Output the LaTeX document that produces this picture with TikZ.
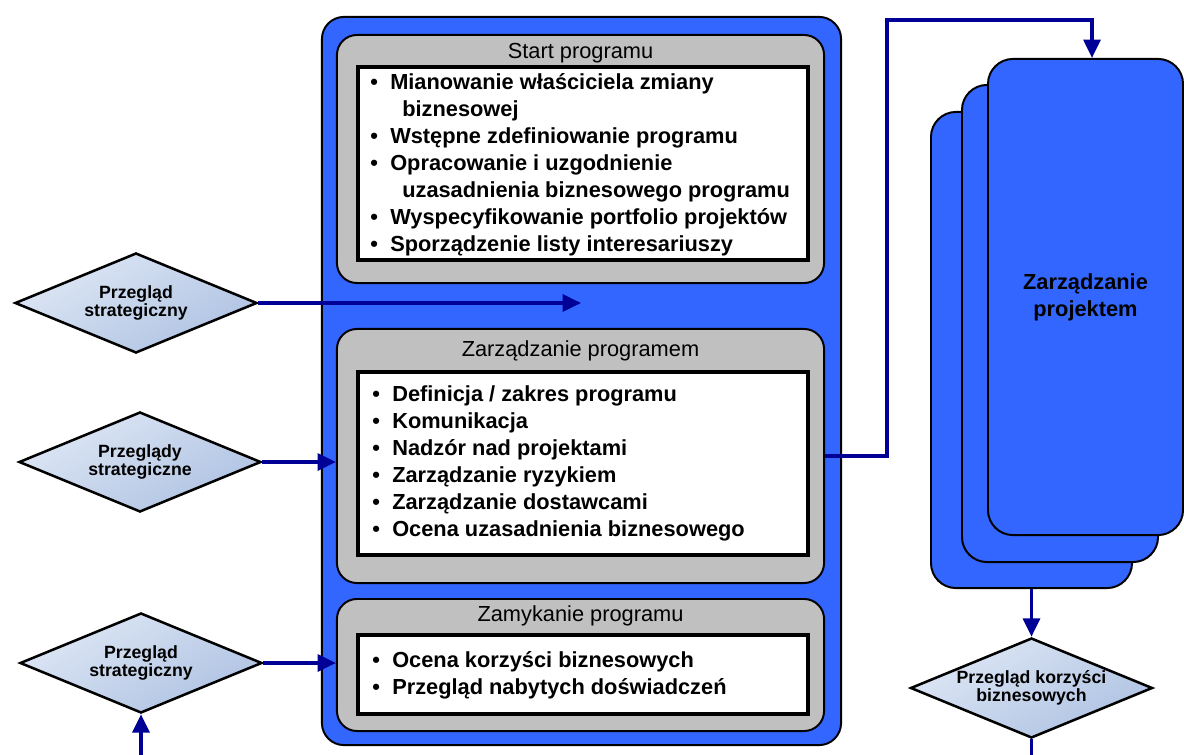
\documentclass[tikz,border=0pt]{standalone}
\usepackage{fontspec}
\setmainfont{Liberation Sans}
\usetikzlibrary{shapes.geometric,arrows.meta}
\definecolor{progblue}{RGB}{51,102,255}
\definecolor{boxgray}{RGB}{192,192,192}
\definecolor{flownavy}{RGB}{0,0,150}
\definecolor{revtop}{RGB}{222,231,245}
\definecolor{revbot}{RGB}{174,194,226}
\newcommand{\blt}{\makebox[.5cm][l]{•}}
\newcommand{\cnt}{\hspace{.8cm}}

\begin{document}
\begin{tikzpicture}[x=.025cm, y=-.025cm,
	progframe/.style={draw=black, line width=1.4pt, fill=progblue, rounded corners=.55cm},
	phase/.style={draw=black, line width=1.4pt, fill=boxgray, rounded corners=.5cm},
	tasks/.style={draw=black, line width=2.5pt, fill=white},
	project/.style={draw=black, line width=1.4pt, fill=progblue, rounded corners=.625cm},
	review/.style={diamond, aspect=2.42, draw=black, line width=1.8pt, top color=revtop, bottom color=revbot, shading angle=30,
		minimum width=6.05cm, minimum height=2.5cm, inner sep=0pt, align=center, font=\bfseries\fontsize{12.6}{12.5}\selectfont},
	title/.style={font=\fontsize{15.5}{19.2}\selectfont, anchor=base, inner sep=0pt},
	items/.style={font=\bfseries\fontsize{15.5}{19.2}\selectfont, anchor=base west, inner sep=0pt, align=left},
	flow/.style={draw=flownavy, line width=2.3pt, -{Triangle[length=13pt,width=12pt]}},
	flowline/.style={draw=flownavy, line width=2.3pt}]
	\useasboundingbox (0,0) rectangle (1184,755);

	\node[progframe, minimum width=12.975cm, minimum height=18.2cm] (prog) at (581.5,381) {};
	\node[phase, minimum width=12.175cm, minimum height=6.2cm]   (start)     at (580.5,159) {};
	\node[tasks, minimum width=11.25cm, minimum height=4.825cm]  (startlist) at (583,163.5) {};
	\node[phase, minimum width=12.175cm, minimum height=6.35cm]  (zarz)      at (580.5,456) {};
	\node[tasks, minimum width=11.25cm, minimum height=4.575cm]  (zarzlist)  at (583,463.5) {};
	\node[phase, minimum width=12.175cm, minimum height=3.3cm]   (zamyk)     at (580.5,665) {};
	\node[tasks, minimum width=11.25cm, minimum height=1.975cm]  (zamyklist) at (583,674.5) {};

	\node[title] (t1) at (580.5,59)  {Start programu};
	\node[title] (t2) at (580.5,356) {Zarządzanie programem};
	\node[title] (t3) at (580.5,621) {Zamykanie programu};

	\node[items] (i1) at (370,251) {\blt Mianowanie właściciela zmiany\\\cnt biznesowej\\\blt Wstępne zdefiniowanie programu\\
		\blt Opracowanie i uzgodnienie\\\cnt uzasadnienia biznesowego programu\\\blt Wyspecyfikowanie portfolio projektów\\
		\blt Sporządzenie listy interesariuszy};
	\node[items] (i2) at (372,536) {\blt Definicja / zakres programu\\\blt Komunikacja\\\blt Nadzór nad projektami\\
		\blt Zarządzanie ryzykiem\\\blt Zarządzanie dostawcami\\\blt Ocena uzasadnienia biznesowego};
	\node[items] (i3) at (372,694) {\blt Ocena korzyści biznesowych\\\blt Przegląd nabytych doświadczeń};

	\node[project, minimum width=5.025cm, minimum height=11.9cm]  (proj3) at (1031.5,350) {};
	\node[project, minimum width=4.9cm, minimum height=11.925cm]  (proj2) at (1060,323.5) {};
	\node[project, minimum width=4.875cm, minimum height=11.9cm, align=center,
		font=\bfseries\fontsize{15.5}{19.2}\selectfont]        (proj1) at (1085.5,297) {Zarządzanie\\projektem};

	\node[review] (d1) at (136,303)    {Przegląd\\strategiczny};
	\node[review] (d2) at (140,462)    {Przeglądy\\strategiczne};
	\node[review] (d3) at (141,663)    {Przegląd\\strategiczny};
	\node[review] (d4) at (1031.5,688) {Przegląd korzyści\\biznesowych};

	\coordinate (stop) at (581,303);
	\coordinate (up)   at (887,20);
	\coordinate (over) at (1092,20);
	\coordinate (in3)  at (141,755);
	\coordinate (out4) at (1031.5,755);

	\draw[flow] (d1.east) -- (d1.east -| stop);
	\draw[flow] (d2.east) -- (d2.east -| zarz.west);
	\draw[flow] (d3.east) -- (d3.east -| zamyk.west);
	\draw[flow] (in3) -- (d3.south);
	\draw[flow] (zarz.east) -| (up) -- (over) -- (over |- proj1.north);
	\draw[flow] (proj3.south) -- (d4.north);
	\draw[flowline] (d4.south) -- (out4);
\end{tikzpicture}
\end{document}
